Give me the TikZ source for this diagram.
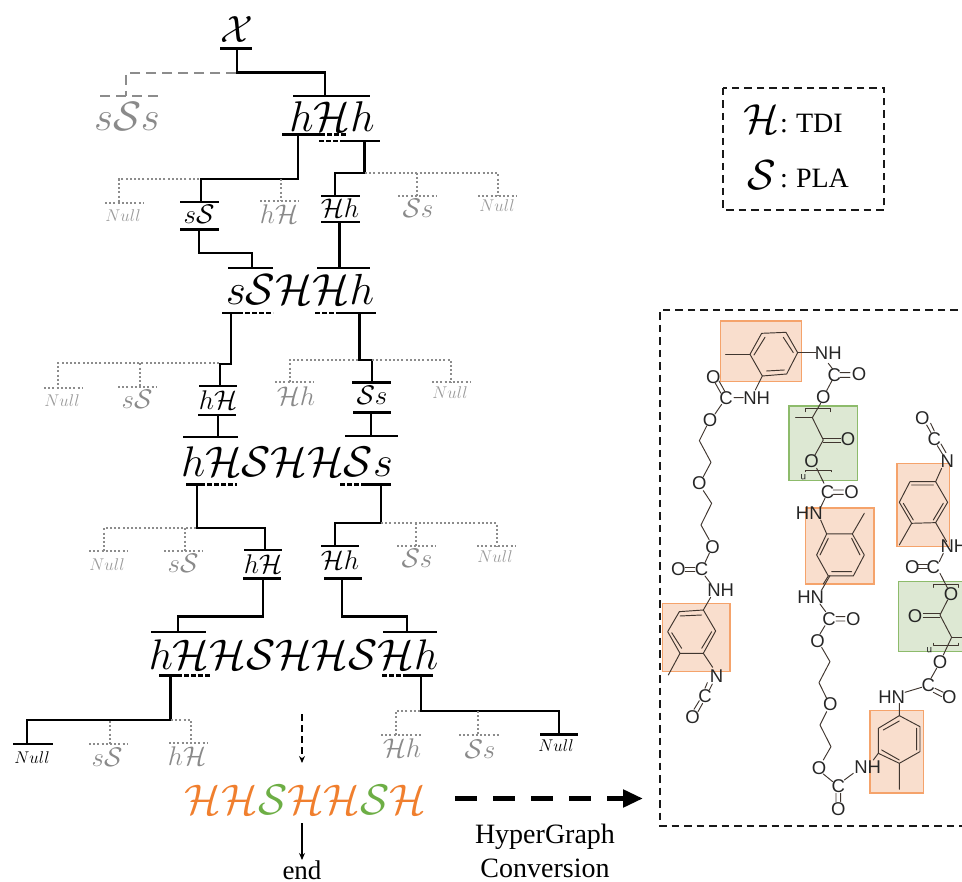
\RequirePackage{fix-cm}
\documentclass[tikz,border=0pt]{standalone}
\usepackage{fontspec}
\usetikzlibrary{arrows.meta}
\newfontfamily\tnrfont{Liberation Serif}
\newfontfamily\chemfont{Liberation Sans}
\definecolor{gtok}{HTML}{8A8A8A}
\definecolor{gnull}{HTML}{9A9A9A}
\definecolor{gline}{HTML}{8C8C8C}
\definecolor{oH}{HTML}{F07F2E}
\definecolor{gS}{HTML}{6DAE45}
\definecolor{orfill}{HTML}{F9DECD}
\definecolor{ordraw}{HTML}{F5A36B}
\definecolor{grfill}{HTML}{DDE8D3}
\definecolor{grdraw}{HTML}{8DBB6B}
\definecolor{chemc}{HTML}{40362F}
\newcommand\cH{\mathcal{H}}
\newcommand\cS{\mathcal{S}}
\newcommand\cX{\mathcal{X}}
\tikzset{
  tok/.style={anchor=base,inner sep=0pt,outer sep=0pt},
  solidbar/.style={line width=2.4pt,black},
  dashbar/.style={line width=2.4pt,black,dash pattern=on 5pt off 2pt},
  graydots/.style={line width=2pt,gline,dash pattern=on 2pt off 2.2pt},
  graydash/.style={line width=2.4pt,gline,dash pattern=on 10pt off 6pt},
  tree/.style={line width=2.4pt,black,line join=miter},
  boxline/.style={line width=2pt,black!90,dash pattern=on 7.5pt off 5pt},
  orbox/.style={fill=orfill,draw=ordraw,line width=1.4pt},
  grbox/.style={fill=grfill,draw=grdraw,line width=1.4pt},
  chem/.style={line width=.95pt,chemc,line cap=round,line join=round},
  atom/.style={font=\chemfont\fontsize{18.5}{18.5}\selectfont,text=black!85,inner sep=0pt,outer sep=0pt},
}
% name, centre x, baseline y, size, colour, math
\newcommand\Tok[6]{\node[tok,text=#5,font=\fontsize{#4}{#4}\selectfont] (#1) at (#2,#3) {$#6$};}
% coordinate name, x of attachment, x1, x2, y, style
\newcommand\BarC[6]{\coordinate (#1) at (#2,#5); \draw[#6] (#3,#5) -- (#4,#5);}
% parent, child, y of the horizontal run, style
\newcommand\Zig[4]{\draw[#4] (#1) -- (#1 |- 0,#3) -- (#2 |- 0,#3) -- (#2);}
\newcommand\At[4]{\node[atom] (#1) at (#2,#3) {#4};}
\begin{document}
\begin{tikzpicture}[x=1pt,y=-1pt]
\useasboundingbox (0,0) rectangle (962,882);
\clip (0,0) rectangle (962,882);
% ---------- row 0
\Tok{tX}{237}{43}{38}{black}{\cX}
\BarC{bX}{237}{220}{252}{48.5}{solidbar}
\Tok{tsSs}{127}{131}{41}{gtok}{s\cS s}
\BarC{bsSs}{126}{100}{159}{96}{graydash}
\Tok{thHh}{332}{131.5}{43}{black}{h\cH h}
\BarC{bhHht}{325}{293}{370}{96}{solidbar}
\Zig{bX}{bhHht}{72.5}{tree}
\coordinate (jX) at (236,73);
\Zig{jX}{bsSs}{73}{graydash}
% hHh bottom
\BarC{bhHhl}{298}{282}{320}{134.5}{solidbar}
\draw[dashbar] (320,134.5) -- (347,134.5);
\BarC{bhHhr}{364.5}{343}{380}{141}{solidbar}
\draw[dashbar] (319,141) -- (343,141);
% ---------- row 1
\BarC{bn1}{119}{105}{144}{203}{graydots}
\Tok{tn1}{123}{221.5}{17}{gnull}{Null}
\BarC{bsS1t}{201}{180}{219}{202}{solidbar}
\Tok{tsS1}{199}{224}{27}{black}{s\cS}
\BarC{bsS1b}{199}{180}{219}{229.5}{solidbar}
\BarC{bhH1}{281}{260}{299}{201.5}{graydots}
\Tok{thH1}{279}{224}{27}{gtok}{h\cH}
\BarC{bHh1t}{335}{321}{360}{196}{solidbar}
\Tok{tHh1}{340}{218}{27}{black}{\cH h}
\BarC{bHh1b}{339.5}{321}{360}{222}{solidbar}
\BarC{bSs1}{417}{398}{437}{196}{graydots}
\Tok{tSs1}{418}{218}{27}{gtok}{\cS s}
\BarC{bn2}{498}{478}{517}{196}{graydots}
\Tok{tn2}{497}{211.5}{17}{gnull}{Null}
\Zig{bhHhl}{bsS1t}{179}{tree}
\coordinate (j1a) at (199,179);
\Zig{j1a}{bn1}{179}{graydots}
\coordinate (j1b) at (281,179);
\draw[graydots] (j1b) -- (bhH1);
\Zig{bhHhr}{bHh1t}{173}{tree}
\coordinate (j1c) at (365,173);
\Zig{j1c}{bn2}{173}{graydots}
\coordinate (j1d) at (417,173);
\draw[graydots] (j1d) -- (bSs1);
% ---------- row 2
\BarC{bsSHt}{252}{228}{273}{268}{solidbar}
\BarC{bHhbt}{339.5}{317}{370}{268}{solidbar}
\Tok{tsSH}{300}{305}{43.5}{black}{s\cS\cH\cH h}
\Zig{bsS1b}{bsSHt}{253}{tree}
\draw[tree] (bHh1b) -- (bHhbt);
\BarC{bsSHl}{231}{222}{238}{313}{solidbar}
\draw[dashbar] (238,313) -- (273,313);
\BarC{bsSHr}{359.5}{336}{376}{313}{solidbar}
\draw[dashbar] (315,313) -- (336,313);
% ---------- row 3
\BarC{bn3}{58}{44}{83}{388}{graydots}
\Tok{tn3}{62}{406.5}{17}{gnull}{Null}
\BarC{bsS3}{140}{118}{157}{387}{graydots}
\Tok{tsS3}{137}{409}{27}{gtok}{s\cS}
\BarC{bhH3t}{220}{199}{237}{386}{solidbar}
\Tok{thH3}{218}{410}{27}{black}{h\cH}
\BarC{bhH3b}{218}{198}{236}{415}{solidbar}
\BarC{bHh3}{290}{275}{314}{382.5}{graydots}
\Tok{tHh3}{296}{406}{27}{gtok}{\cH h}
\BarC{bSs3t}{372}{352}{391}{382.5}{solidbar}
\Tok{tSs3}{372}{405}{27}{black}{\cS s}
\BarC{bSs3b}{371}{353}{391}{412.5}{solidbar}
\BarC{bn4}{451}{432}{471}{382.5}{graydots}
\Tok{tn4}{450}{399}{17}{gnull}{Null}
\Zig{bsSHl}{bhH3t}{364}{tree}
\coordinate (j3a) at (219,363.5);
\Zig{j3a}{bn3}{363.5}{graydots}
\coordinate (j3b) at (140,363.5);
\draw[graydots] (j3b) -- (bsS3);
\Zig{bsSHr}{bSs3t}{360}{tree}
\coordinate (j3c) at (358,360);
\Zig{j3c}{bHh3}{360}{graydots}
\coordinate (j3d) at (372,360);
\Zig{j3d}{bn4}{360}{graydots}
% ---------- row 4
\BarC{bL4t}{218}{183}{238}{437}{solidbar}
\BarC{bL4u}{371}{345}{398}{436}{solidbar}
\draw[tree] (bhH3b) -- (bL4t);
\draw[tree] (bSs3b) -- (bL4u);
\Tok{tL4}{287}{477}{42.8}{black}{h\cH\cS\cH\cH\cS s}
\BarC{bL4l}{197}{186}{200}{484.5}{solidbar}
\draw[dashbar] (200,484.5) -- (237,484.5);
\BarC{bL4r}{381}{362}{391}{484.5}{solidbar}
\draw[dashbar] (340,484.5) -- (362,484.5);
% ---------- row 5
\BarC{bn5}{104}{89}{128}{551}{graydots}
\Tok{tn5}{107}{570}{17}{gnull}{Null}
\BarC{bsS5}{185}{164}{203}{551}{graydots}
\Tok{tsS5}{183}{572.5}{27}{gtok}{s\cS}
\BarC{bhH5t}{265}{244}{282}{550}{solidbar}
\Tok{thH5}{263}{573}{27}{black}{h\cH}
\BarC{bhH5b}{263}{243}{281}{578.5}{solidbar}
\BarC{bHh5t}{335}{321}{359}{546}{solidbar}
\Tok{tHh5}{340}{569}{27}{black}{\cH h}
\BarC{bHh5b}{342}{324}{362}{578.5}{solidbar}
\BarC{bSs5}{416}{397}{436}{546}{graydots}
\Tok{tSs5}{417}{568}{27}{gtok}{\cS s}
\BarC{bn6}{497}{477}{516}{546}{graydots}
\Tok{tn6}{495}{562}{17}{gnull}{Null}
\Zig{bL4l}{bhH5t}{528}{tree}
\coordinate (j5a) at (196,528);
\Zig{j5a}{bn5}{528}{graydots}
\coordinate (j5b) at (185,528);
\draw[graydots] (j5b) -- (bsS5);
\Zig{bL4r}{bHh5t}{523}{tree}
\coordinate (j5c) at (381,523);
\Zig{j5c}{bn6}{523}{graydots}
\coordinate (j5d) at (416,523);
\draw[graydots] (j5d) -- (bSs5);
% ---------- row 6
\BarC{bL6a}{178}{151}{206}{632}{solidbar}
\BarC{bL6b}{407}{383}{437}{632}{solidbar}
\Zig{bhH5b}{bL6a}{616.5}{tree}
\Zig{bHh5b}{bL6b}{616.5}{tree}
\Tok{tL6}{293.5}{669}{42.8}{black}{h\cH\cH\cS\cH\cH\cS\cH h}
\BarC{bL6l}{170.5}{159}{177}{675.5}{solidbar}
\draw[dashbar] (177,675.5) -- (210,675.5);
\BarC{bL6r}{421}{403}{433}{675.5}{solidbar}
\draw[dashbar] (382,675.5) -- (403,675.5);
% ---------- row 7
\BarC{bn7}{27}{13}{53}{744}{solidbar}
\Tok{tn7}{32}{763}{17}{black}{Null}
\BarC{bsS7}{110}{89}{128}{744}{graydots}
\Tok{tsS7}{107}{766}{27}{gtok}{s\cS}
\BarC{bhH7}{191}{169}{208}{743}{graydots}
\Tok{thH7}{187}{765}{27}{gtok}{h\cH}
\BarC{bHh7}{396}{381}{421}{735}{graydots}
\Tok{tHh7}{402}{757}{27}{gtok}{\cH h}
\BarC{bSs7}{478}{459}{499}{735}{graydots}
\Tok{tSs7}{480}{758}{27}{gtok}{\cS s}
\BarC{bn8}{559}{540}{578}{734.5}{solidbar}
\Tok{tn8}{556}{751}{17}{black}{Null}
\Zig{bL6l}{bn7}{720}{tree}
\coordinate (j7a) at (171,720);
\Zig{j7a}{bhH7}{720}{graydots}
\coordinate (j7b) at (110,721);
\draw[graydots] (j7b) -- (bsS7);
\Zig{bL6r}{bn8}{711}{tree}
\coordinate (j7c) at (420,711);
\Zig{j7c}{bHh7}{711}{graydots}
\coordinate (j7d) at (478,711);
\draw[graydots] (j7d) -- (bSs7);
% ---------- result
\coordinate (aTop) at (302,714);
\coordinate (aBot) at (302,763);
\draw[line width=1.4pt,black,dash pattern=on 6.5pt off 4.5pt,-{Stealth[length=7pt,width=6pt]}] (aTop) -- (aBot);
\Tok{tRes}{305.5}{814}{42.8}{black}{\textcolor{oH}{\cH\cH}\textcolor{gS}{\cS}\textcolor{oH}{\cH\cH}\textcolor{gS}{\cS}\textcolor{oH}{\cH}}
\coordinate (rBot) at (302,823);
\node[inner sep=0pt,font=\tnrfont\fontsize{27}{27}\selectfont,anchor=base] (tEnd) at (302,879.5) {end};
\draw[line width=1.4pt,black,-{Stealth[length=7pt,width=6pt]}] (rBot) -- (302,860) coordinate (rEnd);
% big dashed arrow
\coordinate (hgA) at (455,798.5);
\coordinate (hgB) at (643,798.5);
\draw[line width=5pt,black,dash pattern=on 22pt off 16pt] (hgA) -- (622,798.5);
\draw[line width=5pt,black,-{Triangle[length=20pt,width=17pt]}] (610,798.5) -- (hgB);
\node[inner sep=0pt,font=\tnrfont\fontsize{28}{28}\selectfont,anchor=base] (tHG) at (545,843) {HyperGraph};
\node[inner sep=0pt,font=\tnrfont\fontsize{28}{28}\selectfont,anchor=base] (tCV) at (545,877) {Conversion};
% ---------- legend
\draw[boxline] (723,88) rectangle (884,210);
\node[tok,anchor=base west,font=\fontsize{42}{42}\selectfont] (lH) at (743,134) {$\cH$};
\node[tok,anchor=base west,font=\tnrfont\fontsize{28}{28}\selectfont] (lHc) at (780,133) {:};
\node[tok,anchor=base west,font=\tnrfont\fontsize{28}{28}\selectfont] (lHt) at (796,133) {TDI};
\node[tok,anchor=base west,font=\fontsize{42}{42}\selectfont] (lS) at (747,190) {$\cS$};
\node[tok,anchor=base west,font=\tnrfont\fontsize{28}{28}\selectfont] (lSc) at (780,188) {:};
\node[tok,anchor=base west,font=\tnrfont\fontsize{28}{28}\selectfont] (lSt) at (796,188) {PLA};
% ---------- molecule box
\draw[boxline] (970,310) -- (660,310) -- (660,826) -- (970,826);
% upper scope: zoom coordinates
\begin{scope}[shift={(650,300)},x=0.3333pt,y=-0.3333pt]
\path[orbox] (211,63) rectangle (455,245);
\path[grbox] (417,318) rectangle (623,541);
\path[orbox] (466,624) rectangle (672,852);
\path[orbox] (741,491) rectangle (899,739);
\draw[chem] (335,100) -- (408,97) -- (443,158) -- (410,222) -- (337,228) -- (300,163) -- cycle;
\draw[chem] (345,112) -- (312,165) (400,112) -- (430,158) (350,213) -- (403,210);
\draw[chem] (300,163) -- (227,163) (443,158) -- (497,158);
\draw[chem] (535,190) -- (548,207) (570,218) -- (600,218) (570,232) -- (600,232) (547,240) -- (530,272);
\At{a1}{535}{160}{NH}
\At{a2}{553}{225}{C}
\At{a3}{627}{222}{O}
\At{a4}{520}{292}{O}
\draw[chem] (512,310) -- (487,353) -- (520,420) -- (495,465);
\draw[chem] (437,353) -- (487,353);
\draw[chem] (465,335) -- (465,325) -- (540,325) -- (540,335) (467,515) -- (467,510) -- (543,510) -- (543,515);
\draw[chem] (520,414) -- (572,414) (520,426) -- (572,426);
\At{a5}{594}{417}{O}
\At{a6}{485}{483}{O}
\draw[chem] (500,505) -- (522,550);
\node[atom,rotate=180,font=\chemfont\fontsize{10}{10}\selectfont] (a7) at (460,532) {n};
\At{a8}{533}{577}{C}
\At{a9}{605}{577}{O}
\draw[chem] (550,570) -- (580,570) (550,583) -- (580,583) (525,595) -- (512,622);
\At{a10}{478}{640}{HN}
\draw[chem] (512,660) -- (530,702);
\draw[chem] (530,702) -- (607,702) -- (643,765) -- (610,828) -- (535,828) -- (500,765) -- cycle;
\draw[chem] (605,715) -- (630,765) (510,765) -- (535,715) (545,815) -- (605,815) (607,702) -- (643,640);
\draw[chem] (535,828) -- (520,852);
% left chain
\At{a11}{228}{293}{C}
\At{a12}{190}{230}{O}
\At{a13}{320}{293}{NH}
\draw[chem] (195,248) -- (213,280) (207,243) -- (225,275) (252,293) -- (280,293) (316,270) -- (337,228) (215,313) -- (195,342);
\At{a14}{180}{360}{O}
\draw[chem] (170,378) -- (148,422) -- (183,487) -- (160,530);
\At{a15}{148}{550}{O}
\draw[chem] (160,572) -- (185,610) -- (153,675) -- (178,720);
\At{a16}{188}{740}{O}
\draw[chem] (178,760) -- (165,788);
\At{a17}{155}{808}{C}
\At{a18}{85}{808}{O}
\draw[chem] (105,802) -- (135,802) (105,815) -- (135,815);
% right upper
\At{a19}{817}{355}{O}
\At{a20}{853}{417}{C}
\At{a21}{892}{483}{N}
\draw[chem] (830,375) -- (843,398) (842,370) -- (853,393) (862,437) -- (878,463) (873,432) -- (888,458);
\draw[chem] (780,545) -- (857,545) -- (893,607) -- (857,668) -- (785,670) -- (748,607) -- cycle;
\draw[chem] (785,555) -- (850,555) (760,610) -- (790,660) (880,610) -- (850,660) (875,505) -- (857,545) (785,670) -- (748,735) (857,668) -- (890,725);
\At{a22}{912}{738}{NH}
\draw[chem] (880,760) -- (868,785);
\At{a23}{850}{800}{C}
\At{a24}{787}{800}{O}
\draw[chem] (805,795) -- (832,795) (805,807) -- (832,807);
\end{scope}
% lower scope: zoom coordinates
\begin{scope}[shift={(650,560)},x=0.3333pt,y=-0.3333pt]
\path[orbox] (37,131) rectangle (240,334);
\path[orbox] (660,451) rectangle (820,699);
\path[grbox] (745,65) rectangle (965,274);
\draw[chem] (165,48) -- (183,72);
\At{b1}{212}{90}{NH}
\draw[chem] (182,112) -- (160,150);
\draw[chem] (88,155) -- (160,150) -- (197,213) -- (160,280) -- (90,280) -- (53,215) -- cycle;
\draw[chem] (90,168) -- (155,165) (65,218) -- (95,265) (185,215) -- (155,265) (90,280) -- (55,345) (160,280) -- (188,322);
\At{b2}{200}{347}{N}
\At{b3}{165}{408}{C}
\At{b4}{128}{470}{O}
\draw[chem] (172,368) -- (165,385) (187,372) -- (178,390) (148,422) -- (132,448) (158,430) -- (144,455);
% centre
\At{b5}{482}{112}{HN}
\draw[chem] (540,47) -- (515,90) (510,132) -- (527,155);
\At{b6}{537}{177}{C}
\At{b7}{610}{177}{O}
\draw[chem] (558,170) -- (585,170) (558,183) -- (585,183) (525,197) -- (510,222);
\At{b8}{503}{243}{O}
\draw[chem] (515,262) -- (540,305) -- (507,368) -- (530,415);
\At{b9}{541}{433}{O}
\draw[chem] (530,455) -- (510,495) -- (543,560) -- (520,600);
\At{b10}{507}{623}{O}
\draw[chem] (520,642) -- (548,665);
\At{b11}{565}{678}{C}
\At{b12}{565}{748}{O}
\draw[chem] (558,700) -- (558,725) (572,700) -- (572,725) (583,660) -- (610,640);
\At{b13}{653}{622}{NH}
\draw[chem] (748,467) -- (810,500) -- (810,575) -- (748,610) -- (685,580) -- (685,505) -- cycle;
\draw[chem] (700,510) -- (748,483) (800,505) -- (800,570) (695,570) -- (748,600) (748,610) -- (748,688) (685,580) -- (670,600);
\At{b14}{725}{410}{HN}
\draw[chem] (748,430) -- (748,467) (765,397) -- (815,382);
\At{b15}{835}{375}{C}
\At{b16}{898}{410}{O}
\draw[chem] (855,385) -- (880,397) (850,397) -- (875,410) (843,355) -- (860,325);
\At{b17}{870}{305}{O}
\draw[chem] (880,285) -- (905,232) -- (870,165) -- (893,120);
\draw[chem] (905,232) -- (936,232);
\draw[chem] (870,159) -- (820,159) (870,171) -- (820,171);
\At{b18}{795}{168}{O}
\At{b19}{903}{103}{O}
\draw[chem] (850,82) -- (850,72) -- (925,72) -- (925,82) (850,250) -- (850,255) -- (925,255) -- (925,250);
\node[atom,rotate=180,font=\chemfont\fontsize{10}{10}\selectfont] (b20) at (838,272) {n};
\draw[chem] (893,85) -- (870,40);
\end{scope}
\end{tikzpicture}
\end{document}
